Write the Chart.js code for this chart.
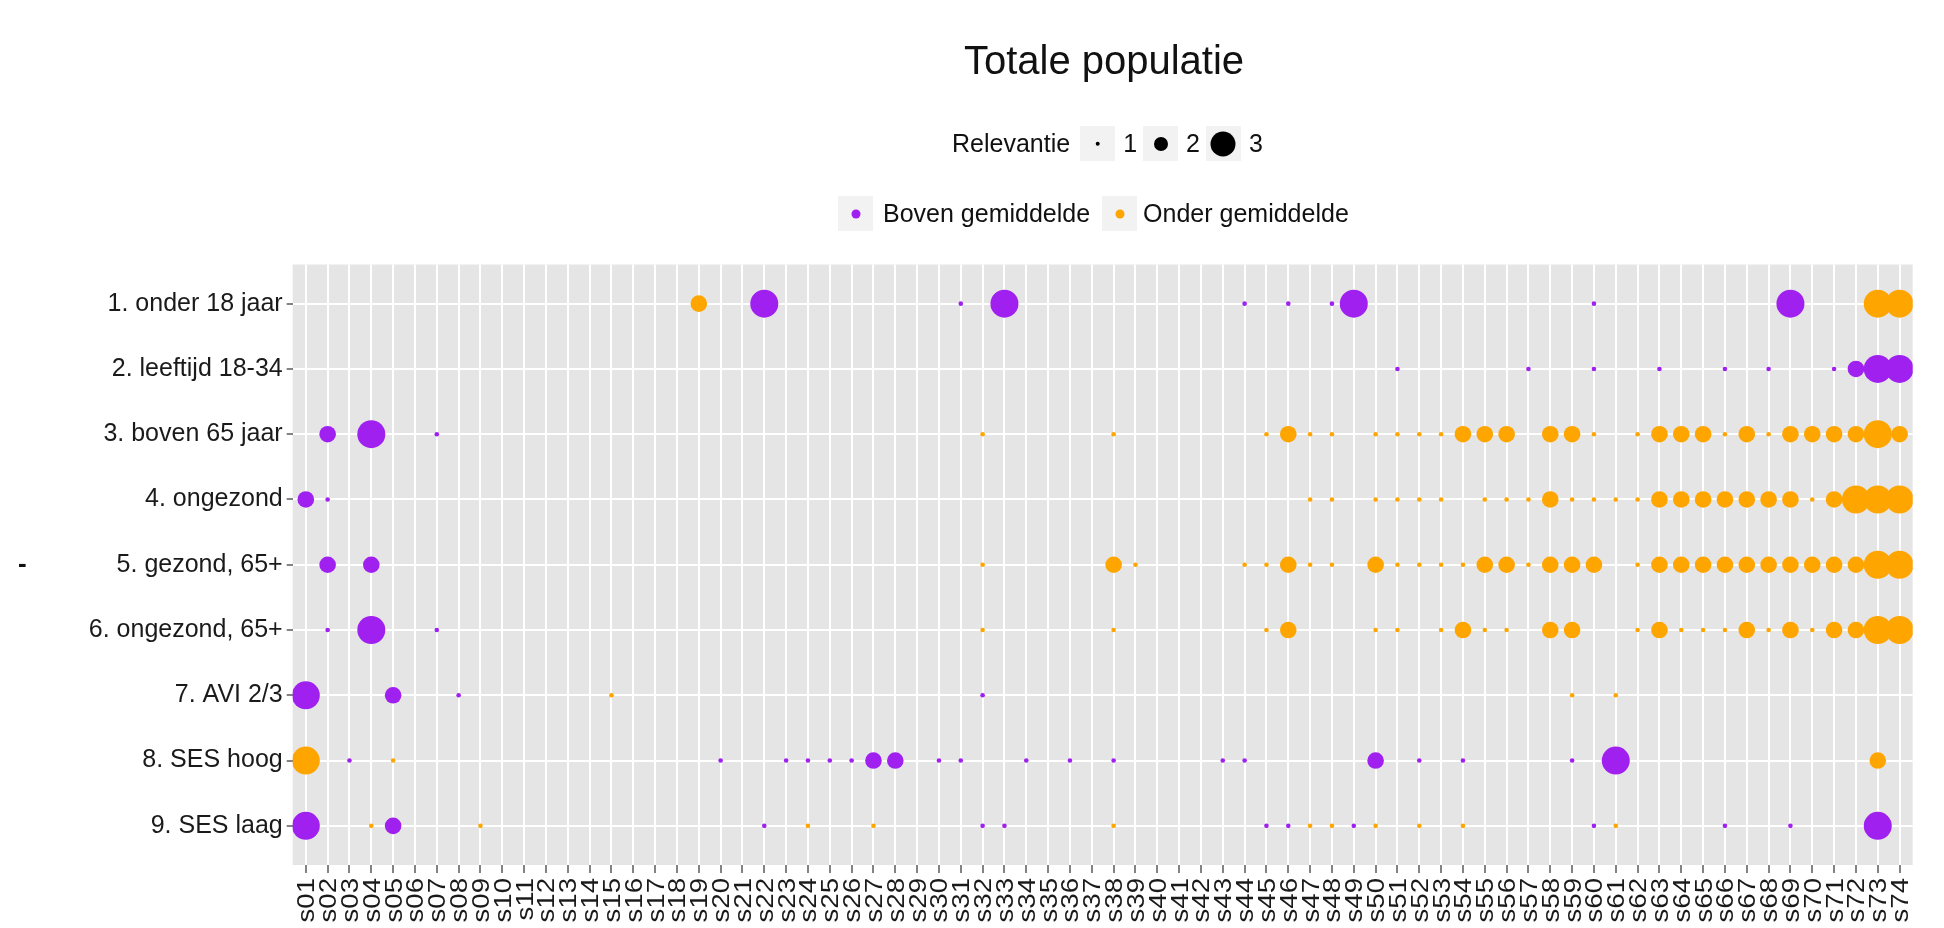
<!DOCTYPE html>
<html lang="nl">
<head>
<meta charset="utf-8">
<title>Totale populatie</title>
<script src="https://cdn.jsdelivr.net/npm/chart.js@4/dist/chart.umd.min.js"></script>
<style>
  html, body { margin: 0; padding: 0; background: #fff; }
  body { width: 1944px; height: 928px; position: relative; overflow: hidden;
         font-family: "Liberation Sans", Arial, sans-serif; color: #111; }
  #chart { position: absolute; left: 0; top: 0; }
  .title { position: absolute; left: 1104px; top: 40px; transform: translateX(-50%);
           font-size: 40px; line-height: 40px; white-space: nowrap; }
  .legend { position: absolute; display: flex; align-items: center; height: 35px;
            font-size: 25px; white-space: nowrap; }
  .key { width: 35px; height: 35px; background: #f2f2f2; position: relative; }
  .key span { position: absolute; left: 50%; top: 50%; border-radius: 50%;
              transform: translate(-50%, -50%); }
  .ytitle { position: absolute; left: 18px; top: 548px; font-size: 26px; font-weight: bold; }
</style>
</head>
<body>
<canvas id="chart" width="1944" height="928"></canvas>
<div class="title">Totale populatie</div>

<div class="legend" id="sizeLegend" style="left:952px; top:126px;"></div>
<div class="legend" id="colorLegend" style="left:838px; top:196px;"></div>
<div class="ytitle">-</div>

<script>
// kolommen (x-as)
const columns = [
  's01','s02','s03','s04','s05','s06','s07','s08','s09','s10',
  's11','s12','s13','s14','s15','s16','s17','s18','s19','s20',
  's21','s22','s23','s24','s25','s26','s27','s28','s29','s30',
  's31','s32','s33','s34','s35','s36','s37','s38','s39','s40',
  's41','s42','s43','s44','s45','s46','s47','s48','s49','s50',
  's51','s52','s53','s54','s55','s56','s57','s58','s59','s60',
  's61','s62','s63','s64','s65','s66','s67','s68','s69','s70',
  's71','s72','s73','s74'
];

// groepen (y-as)
const groups = [
  '1. onder 18 jaar',
  '2. leeftijd 18-34',
  '3. boven 65 jaar',
  '4. ongezond',
  '5. gezond, 65+',
  '6. ongezond, 65+',
  '7. AVI 2/3',
  '8. SES hoog',
  '9. SES laag'
];

// [kolom, relevantie] - positief = boven gemiddelde, negatief = onder gemiddelde
const onder18 = [['s19',-2],['s22',3],['s31',1],['s33',3],['s44',1],['s46',1],['s48',1],
  ['s49',3],['s60',1],['s69',3],['s73',-3],['s74',-3]];
const leeftijd1834 = [['s51',1],['s57',1],['s60',1],['s63',1],['s66',1],['s68',1],['s71',1],
  ['s72',2],['s73',3],['s74',3]];
const boven65 = [['s02',2],['s04',3],['s07',1],['s32',-1],['s38',-1],['s45',-1],['s46',-2],
  ['s47',-1],['s48',-1],['s50',-1],['s51',-1],['s52',-1],['s53',-1],['s54',-2],['s55',-2],
  ['s56',-2],['s58',-2],['s59',-2],['s60',-1],['s62',-1],['s63',-2],['s64',-2],['s65',-2],
  ['s66',-1],['s67',-2],['s68',-1],['s69',-2],['s70',-2],['s71',-2],['s72',-2],['s73',-3],['s74',-2]];
const ongezond = [['s01',2],['s02',1],['s47',-1],['s48',-1],['s50',-1],['s51',-1],['s52',-1],
  ['s53',-1],['s55',-1],['s56',-1],['s57',-1],['s58',-2],['s59',-1],['s60',-1],['s61',-1],
  ['s62',-1],['s63',-2],['s64',-2],['s65',-2],['s66',-2],['s67',-2],['s68',-2],['s69',-2],
  ['s70',-1],['s71',-2],['s72',-3],['s73',-3],['s74',-3]];
const gezond65 = [['s02',2],['s04',2],['s32',-1],['s38',-2],['s39',-1],['s44',-1],['s45',-1],
  ['s46',-2],['s47',-1],['s48',-1],['s50',-2],['s51',-1],['s52',-1],['s53',-1],['s54',-1],
  ['s55',-2],['s56',-2],['s57',-1],['s58',-2],['s59',-2],['s60',-2],['s62',-1],['s63',-2],
  ['s64',-2],['s65',-2],['s66',-2],['s67',-2],['s68',-2],['s69',-2],['s70',-2],['s71',-2],
  ['s72',-2],['s73',-3],['s74',-3]];
const ongezond65 = [['s02',1],['s04',3],['s07',1],['s32',-1],['s38',-1],['s45',-1],['s46',-2],
  ['s50',-1],['s51',-1],['s53',-1],['s54',-2],['s55',-1],['s56',-1],['s58',-2],['s59',-2],
  ['s62',-1],['s63',-2],['s64',-1],['s65',-1],['s66',-1],['s67',-2],['s68',-1],['s69',-2],
  ['s70',-1],['s71',-2],['s72',-2],['s73',-3],['s74',-3]];
const avi23 = [['s01',3],['s05',2],['s08',1],['s15',-1],['s32',1],['s59',-1],['s61',-1]];
const sesHoog = [['s01',-3],['s03',1],['s05',-1],['s20',1],['s23',1],['s24',1],['s25',1],
  ['s26',1],['s27',2],['s28',2],['s30',1],['s31',1],['s34',1],['s36',1],['s38',1],['s43',1],
  ['s44',1],['s50',2],['s52',1],['s54',1],['s59',1],['s61',3],['s73',-2]];
const sesLaag = [['s01',3],['s04',-1],['s05',2],['s09',-1],['s22',1],['s24',-1],['s27',-1],
  ['s32',1],['s33',1],['s38',-1],['s45',1],['s46',1],['s47',-1],['s48',-1],['s49',1],
  ['s50',-1],['s52',-1],['s54',-1],['s60',1],['s61',-1],['s66',1],['s69',1],['s73',3]];

const rows = [onder18, leeftijd1834, boven65, ongezond, gezond65, ongezond65, avi23, sesHoog, sesLaag];

const PURPLE = '#a020f0';
const ORANGE = '#ffa500';
const radius = { 1: 2.3, 2: 8.3, 3: 14 };
const FONT = '"Liberation Sans", Arial, sans-serif';

const boven = [];
const onder = [];
rows.forEach((row, i) => {
  row.forEach(([col, v]) => {
    const pt = { x: columns.indexOf(col) + 1, y: i + 1, r: radius[Math.abs(v)] };
    (v > 0 ? boven : onder).push(pt);
  });
});

const panelBg = {
  id: 'panelBg',
  beforeDraw(chart) {
    const { ctx, chartArea: a } = chart;
    ctx.save();
    ctx.fillStyle = '#e5e5e5';
    ctx.fillRect(a.left, a.top, a.right - a.left, a.bottom - a.top);
    ctx.restore();
  }
};

// x labels: rotated, a bit stretched along the text like in the original
const xLabels = {
  id: 'xLabels',
  afterDraw(chart) {
    const xs = chart.scales.x;
    const ctx = chart.ctx;
    ctx.save();
    ctx.fillStyle = '#1a1a1a';
    ctx.font = '24px ' + FONT;
    ctx.textAlign = 'right';
    ctx.textBaseline = 'alphabetic';
    xs.ticks.forEach((t) => {
      const lbl = columns[t.value - 1];
      if (!lbl) return;
      const px = xs.getPixelForValue(t.value);
      ctx.save();
      ctx.translate(px, xs.top + 13);
      ctx.rotate(-Math.PI / 2);
      ctx.scale(1.15, 1);
      ctx.fillText(lbl, 0, 8.5);
      ctx.restore();
    });
    ctx.restore();
  }
};

new Chart(document.getElementById('chart'), {
  type: 'bubble',
  data: {
    datasets: [
      { label: 'Boven gemiddelde', data: boven, backgroundColor: PURPLE, borderWidth: 0 },
      { label: 'Onder gemiddelde', data: onder, backgroundColor: ORANGE, borderWidth: 0 }
    ]
  },
  options: {
    responsive: false,
    animation: false,
    devicePixelRatio: 1,
    layout: { padding: { top: 264.5, right: 31.3, left: 0, bottom: 0 } },
    plugins: { legend: { display: false }, tooltip: { enabled: false } },
    scales: {
      x: {
        type: 'linear',
        min: 0.4,
        max: 74.6,
        afterFit(scale) { scale.height = 63; },
        border: { display: false },
        grid: { color: '#ffffff', lineWidth: 2, tickColor: '#5a5a5a', tickWidth: 1.5, tickLength: 8 },
        ticks: {
          stepSize: 1,
          includeBounds: false,
          autoSkip: false,
          display: false
        }
      },
      y: {
        type: 'linear',
        reverse: true,
        min: 0.4,
        max: 9.6,
        afterFit(scale) { scale.width = 292.7; },
        border: { display: false },
        grid: { color: '#ffffff', lineWidth: 2, tickColor: '#5a5a5a', tickWidth: 1.5, tickLength: 6 },
        ticks: {
          stepSize: 1,
          includeBounds: false,
          padding: 4,
          color: '#1a1a1a',
          font: { family: FONT, size: 25 },
          callback: (v) => groups[v - 1] || ''
        }
      }
    }
  },
  plugins: [panelBg, xLabels]
});

// legenda's
function key(color, r) {
  const k = document.createElement('div');
  k.className = 'key';
  const dot = document.createElement('span');
  dot.style.width = dot.style.height = (2 * r) + 'px';
  dot.style.background = color;
  k.appendChild(dot);
  return k;
}
function label(text, ml, mr) {
  const s = document.createElement('div');
  s.textContent = text;
  s.style.marginLeft = ml + 'px';
  s.style.marginRight = mr + 'px';
  return s;
}

const sizeLegend = document.getElementById('sizeLegend');
sizeLegend.appendChild(label('Relevantie', 0, 10));
[[1, 2.3], [2, 7], [3, 12.5]].forEach(([lvl, r]) => {
  sizeLegend.appendChild(key('#000', r));
  sizeLegend.appendChild(label(String(lvl), 8, 6));
});

const colorLegend = document.getElementById('colorLegend');
colorLegend.appendChild(key(PURPLE, 4.5));
colorLegend.appendChild(label('Boven gemiddelde', 10, 12));
colorLegend.appendChild(key(ORANGE, 4.5));
colorLegend.appendChild(label('Onder gemiddelde', 6, 0));
</script>
</body>
</html>
